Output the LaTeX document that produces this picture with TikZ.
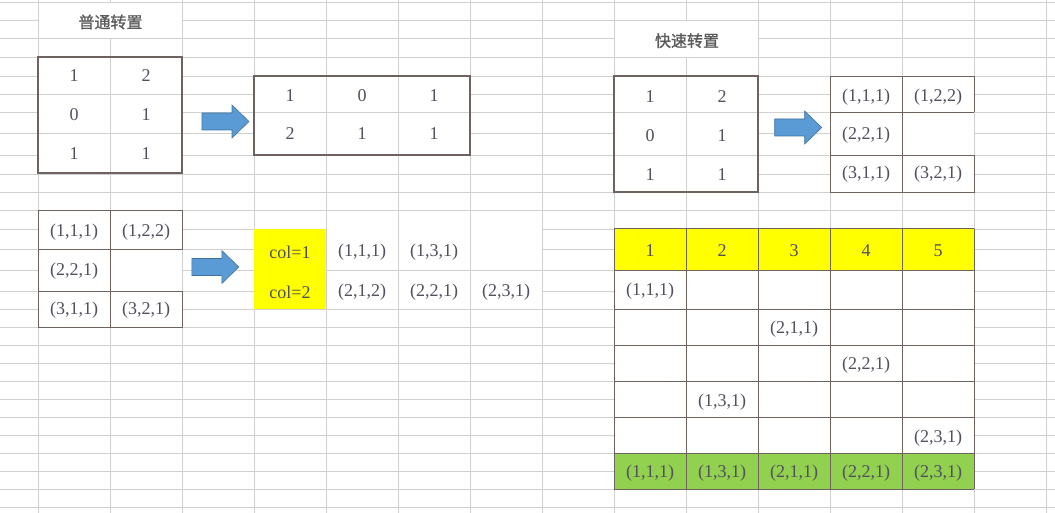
\documentclass[tikz,border=0pt]{standalone}
\usepackage{fontspec}
\setmainfont{Liberation Serif}
\newfontfamily\cjkfont[FakeBold=1]{Noto Sans CJK SC}
\usepackage{xcolor}
\definecolor{gridgray}{HTML}{D0D0D0}
\definecolor{cellline}{HTML}{6E625E}
\definecolor{textgray}{HTML}{50505E}
\definecolor{titlegray}{HTML}{595959}
\definecolor{cellyellow}{HTML}{FFFF00}
\definecolor{cellgreen}{HTML}{92D050}
\definecolor{arrowblue}{HTML}{5B9BD5}
\definecolor{arrowedge}{HTML}{41719C}

\begin{document}
\begin{tikzpicture}[x=1pt, y=-1pt,
  sheetline/.style={gridgray, line width=0.9pt},
  thinframe/.style={cellline, line width=1pt},
  thickframe/.style={cellline, line width=2pt},
  cellval/.style={text=textgray, font=\fontsize{18}{20}\selectfont, inner sep=0pt},
  heading/.style={text=titlegray, font=\cjkfont\fontsize{16}{18}\selectfont, inner sep=0pt},
  blockarrow/.pic={\draw[arrowedge, fill=arrowblue, line width=0.6pt] (0,-8.5) -- (30,-8.5) -- (30,-16.5) -- (47,0) -- (30,16.5) -- (30,8.5) -- (0,8.5) -- cycle;}]
\fill[white] (0,0) rectangle (1055,513);
\useasboundingbox (0,0) rectangle (1055,513);

% spreadsheet background
\foreach \x in {38,110,...,1046}
  \draw[sheetline] (\x,0) -- (\x,513);
\foreach \y in {2.7,20.7,38.7,57.3,76.3,94.7,112.7,133.3,155.3,174,192.7,210.7,229,249.5,270,291,309.3,327.3,345.3,363.3,381.3,399.3,417.3,435.3,453.3,471.3,489.3,507.3}
  \draw[sheetline] (0,\y) -- (1055,\y);

% titles
\fill[white] (38.5,3.2) rectangle (181.5,38.2);
\fill[white] (614.5,21.2) rectangle (757.5,56.8);
\node[heading] (plain) at (110.5,22) {普通转置};
\node[heading] (fast) at (687,40.7) {快速转置};

% ordinary transpose: matrix and result
\fill[white] (38,57.3) rectangle (182,173.3);
\draw[sheetline] (110,57.3) -- (110,173.3) (38,94.7) -- (182,94.7) (38,133.3) -- (182,133.3);
\draw[thickframe] (38,57.3) rectangle (182,173.3);
\foreach \a/\b [count=\r] in {1/2,0/1,1/1} {
  \node[cellval] (pa-\r-1) at (74,{76+38.6*(\r-1)}) {\a};
  \node[cellval] (pa-\r-2) at (146,{76+38.6*(\r-1)}) {\b};
}
\pic at (202,121.5) {blockarrow};
\fill[white] (254,76.3) rectangle (470,154.7);
\draw[sheetline] (326,76.3) -- (326,154.7) (398,76.3) -- (398,154.7) (254,112.7) -- (470,112.7);
\draw[thickframe] (254,76.3) rectangle (470,154.7);
\foreach \a/\b/\c [count=\r] in {1/0/1,2/1/1} {
  \node[cellval] (pb-\r-1) at (290,{95.5+38.5*(\r-1)}) {\a};
  \node[cellval] (pb-\r-2) at (362,{95.5+38.5*(\r-1)}) {\b};
  \node[cellval] (pb-\r-3) at (434,{95.5+38.5*(\r-1)}) {\c};
}

% triples of the matrix
\fill[white] (38,210.7) rectangle (182,327.3);
\draw[sheetline] (182,249.7) -- (182,291);
\draw[thinframe] (182,249.7) -- (182,210.7) -- (38,210.7) -- (38,327.3) -- (182,327.3) -- (182,291)
  (38,249.7) -- (182,249.7) (38,291) -- (182,291) (110,210.7) -- (110,327.3);
\node[cellval] (sa-1-1) at (74,232) {(1,1,1)};
\node[cellval] (sa-1-2) at (146,232) {(1,2,2)};
\node[cellval] (sa-2-1) at (74,271.5) {(2,2,1)};
\node[cellval] (sa-3-1) at (74,310) {(3,1,1)};
\node[cellval] (sa-3-2) at (146,310) {(3,2,1)};
\pic at (191.8,267) {blockarrow};

% grouped by column
\fill[white] (254.5,229.5) rectangle (541.5,308.8);
\draw[sheetline] (326,229) -- (326,309.3) (398,229) -- (398,309.3) (470,229) -- (470,309.3) (254,270) -- (542,270);
\fill[cellyellow] (254,229) rectangle (326,309.3);
\node[cellval] (col-1) at (290,252) {col=1};
\node[cellval] (col-2) at (290,292) {col=2};
\node[cellval] (ca-1) at (362,252) {(1,1,1)};
\node[cellval] (ca-2) at (434,252) {(1,3,1)};
\node[cellval] (cb-1) at (362,292) {(2,1,2)};
\node[cellval] (cb-2) at (434,292) {(2,2,1)};
\node[cellval] (cb-3) at (506,292) {(2,3,1)};

% fast transpose: matrix and triples
\fill[white] (614,76.3) rectangle (758,192.3);
\draw[sheetline] (686,76.3) -- (686,192.3) (614,112.7) -- (758,112.7) (614,155.3) -- (758,155.3);
\draw[thickframe] (614,76.3) rectangle (758,192.3);
\foreach \a/\b [count=\r] in {1/2,0/1,1/1} {
  \node[cellval] (fa-\r-1) at (650,{96.7+38.7*(\r-1)}) {\a};
  \node[cellval] (fa-\r-2) at (722,{96.7+38.7*(\r-1)}) {\b};
}
\pic at (774.7,127.5) {blockarrow};
\fill[white] (830,76.3) rectangle (974,192.3);
\draw[sheetline] (974,112.5) -- (974,155.3);
\draw[thinframe] (974,112.5) -- (974,76.3) -- (830,76.3) -- (830,192.3) -- (974,192.3) -- (974,155.3)
  (830,112.5) -- (974,112.5) (830,155.3) -- (974,155.3) (902,76.3) -- (902,192.3);
\node[cellval] (fb-1-1) at (866,96.7) {(1,1,1)};
\node[cellval] (fb-1-2) at (938,96.7) {(1,2,2)};
\node[cellval] (fb-2-1) at (866,135.3) {(2,2,1)};
\node[cellval] (fb-3-1) at (866,174) {(3,1,1)};
\node[cellval] (fb-3-2) at (938,174) {(3,2,1)};

% position table
\fill[white] (614,229) rectangle (974,489.3);
\fill[cellyellow] (614,229) rectangle (974,270);
\fill[cellgreen] (614,453.3) rectangle (974,489.3);
\foreach \x in {614,686,...,974}
  \draw[thinframe] (\x,229) -- (\x,489.3);
\foreach \y in {229,270,309.3,345.3,381.3,417.3,453.3,489.3}
  \draw[thinframe] (614,\y) -- (974,\y);
\foreach \k in {1,...,5}
  \node[cellval] (pos-\k) at ({650+72*(\k-1)},250.7) {\k};
\node[cellval] (pt-1) at (650,290.7) {(1,1,1)};
\node[cellval] (pt-2) at (794,328.7) {(2,1,1)};
\node[cellval] (pt-3) at (866,365.3) {(2,2,1)};
\node[cellval] (pt-4) at (722,401.7) {(1,3,1)};
\node[cellval] (pt-5) at (938,437.7) {(2,3,1)};
\foreach \t [count=\k] in {(1,1,1),(1,3,1),(2,1,1),(2,2,1),(2,3,1)}
  \node[cellval] (out-\k) at ({650+72*(\k-1)},473.3) {\t};
\end{tikzpicture}
\end{document}
